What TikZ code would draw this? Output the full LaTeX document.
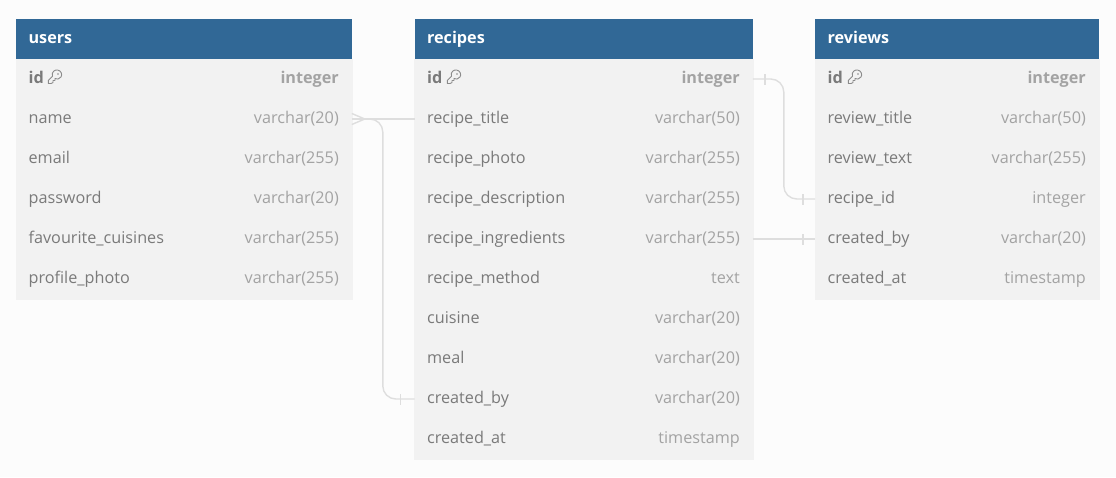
\documentclass[tikz,border=0pt]{standalone}
\usepackage{fontspec}
\setmainfont{Open Sans}
\usetikzlibrary{positioning}

\definecolor{headblue}{HTML}{316896}
\definecolor{rowgray}{HTML}{F2F2F2}
\definecolor{pagegray}{HTML}{FCFCFC}
\definecolor{namegray}{HTML}{7A7A7A}
\definecolor{typegray}{HTML}{A3A3A3}
\definecolor{linkgray}{HTML}{DEDEDE}

\tikzset{
    tablehead/.style={fill=headblue, text=white, font=\fontsize{16.2}{18}\selectfont\bfseries, anchor=north west,
        minimum height=40pt, inner xsep=12.6pt, inner ysep=0pt, outer sep=0pt, align=left, text height=13pt, text depth=4pt},
    fieldrow/.style={fill=rowgray, draw=rowgray, line width=0.2pt, text=namegray, font=\fontsize{16.2}{18}\selectfont,
        minimum height=40pt, inner xsep=12.6pt, inner ysep=0pt, outer sep=0pt, align=left, text height=13pt, text depth=4pt, below=0pt of #1},
    fieldtype/.style={text=typegray, font=\fontsize{16.2}{18}\selectfont, anchor=east, inner xsep=13pt, inner ysep=0pt,
        outer sep=0pt, text height=13pt, text depth=4pt},
    keyline/.style={draw=typegray!85!black, line width=0.9pt, line join=round},
    relline/.style={draw=linkgray, line width=1.4pt}
}

% One table row: name, row above, text, type
\newcommand{\fieldline}[5][]{
    \node[fieldrow=#3, text width=\rowwidth-25.4pt, #1] (#2) {#4};
    \node[fieldtype] at (#2.east) {#5};
}
% Key glyph next to a primary key
\newcommand{\keyglyph}{
    \draw[keyline] (0.8,6.5) -- (0.8,3.5) -- (5,-0.7) .. controls (3.5,-5.5) and (8,-7.5) .. (10,-7)
        .. controls (14,-6.5) and (15,-2) .. (13.5,0) .. controls (12,2.5) and (9,2.5) .. (7.5,1.5)
        -- (7.5,3.5) -- (5.5,3.5) -- (5.5,5.5) -- (3.5,6.5) -- cycle;
    \fill[typegray!85!black] (10.5,-3) circle (0.9);
}

\begin{document}
\begin{tikzpicture}[x=1pt, y=-1pt]
    \useasboundingbox[fill=pagegray] (0,0) rectangle (1116,477);

    % users table
    \def\rowwidth{336pt}
    \node[tablehead, text width=\rowwidth-25.4pt] (users) at (16,19) {users};
    \fieldline{users-id}{users}{\textbf{id}}{\textbf{integer}}
    \fieldline{users-name}{users-id}{name}{varchar(20)}
    \fieldline{users-email}{users-name}{email}{varchar(255)}
    \fieldline{users-password}{users-email}{password}{varchar(20)}
    \fieldline{users-cuisines}{users-password}{favourite\_cuisines}{varchar(255)}
    \fieldline{users-photo}{users-cuisines}{profile\_photo}{varchar(255)}

    % recipes table
    \def\rowwidth{338.5pt}
    \node[tablehead, text width=\rowwidth-25.4pt] (recipes) at (414.5,19) {recipes};
    \fieldline{recipes-id}{recipes}{\textbf{id}}{\textbf{integer}}
    \fieldline{recipes-title}{recipes-id}{recipe\_title}{varchar(50)}
    \fieldline{recipes-photo}{recipes-title}{recipe\_photo}{varchar(255)}
    \fieldline{recipes-description}{recipes-photo}{recipe\_description}{varchar(255)}
    \fieldline{recipes-ingredients}{recipes-description}{recipe\_ingredients}{varchar(255)}
    \fieldline{recipes-method}{recipes-ingredients}{recipe\_method}{text}
    \fieldline{recipes-cuisine}{recipes-method}{cuisine}{varchar(20)}
    \fieldline{recipes-meal}{recipes-cuisine}{meal}{varchar(20)}
    \fieldline{recipes-createdby}{recipes-meal}{created\_by}{varchar(20)}
    \fieldline{recipes-createdat}{recipes-createdby}{created\_at}{timestamp}

    % reviews table
    \def\rowwidth{284pt}
    \node[tablehead, text width=\rowwidth-25.4pt] (reviews) at (815,19) {reviews};
    \fieldline{reviews-id}{reviews}{\textbf{id}}{\textbf{integer}}
    \fieldline{reviews-title}{reviews-id}{review\_title}{varchar(50)}
    \fieldline{reviews-text}{reviews-title}{review\_text}{varchar(255)}
    \fieldline{reviews-recipeid}{reviews-text}{recipe\_id}{integer}
    \fieldline{reviews-createdby}{reviews-recipeid}{created\_by}{varchar(20)}
    \fieldline{reviews-createdat}{reviews-createdby}{created\_at}{timestamp}

    % Key glyphs
    \begin{scope}[shift={(47.5,77)}] \keyglyph \end{scope}
    \begin{scope}[shift={(446.5,77)}] \keyglyph \end{scope}
    \begin{scope}[shift={(847.5,77)}] \keyglyph \end{scope}

    % Relations
    \draw[relline] (users-name.east) -- (recipes-title.west);
    \draw[relline, rounded corners=13pt] ([xshift=14pt]users-name.east) -| ([xshift=31pt]users-name.east |- recipes-createdby.west) -- (recipes-createdby.west);
    \draw[relline, rounded corners=13pt] (recipes-id.east) -- ++(31,0) |- (reviews-recipeid.west);
    \draw[relline] (recipes-ingredients.east) -- (reviews-createdby.west);

    % Crow foot
    \draw[relline] ([yshift=-5.5pt]users-name.east) -- ([xshift=13pt]users-name.east) -- ([yshift=5.5pt]users-name.east);

    % Ticks
    \draw[relline] ([xshift=-14pt, yshift=-5.5pt]recipes-createdby.west) -- ([xshift=-14pt, yshift=5.5pt]recipes-createdby.west);
    \draw[relline] ([xshift=12pt, yshift=-5.5pt]recipes-id.east) -- ([xshift=12pt, yshift=5.5pt]recipes-id.east);
    \draw[relline] ([xshift=-12pt, yshift=-5.5pt]reviews-recipeid.west) -- ([xshift=-12pt, yshift=5.5pt]reviews-recipeid.west);
    \draw[relline] ([xshift=-12pt, yshift=-5.5pt]reviews-createdby.west) -- ([xshift=-12pt, yshift=5.5pt]reviews-createdby.west);
\end{tikzpicture}
\end{document}
